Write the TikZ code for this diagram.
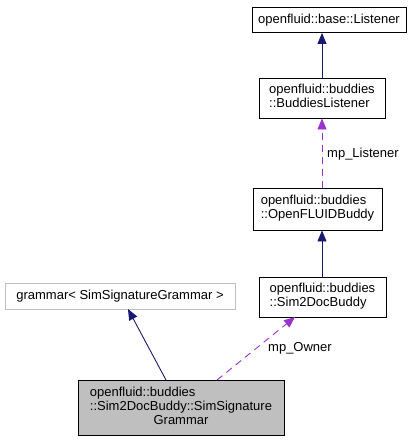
\documentclass[tikz,border=0pt]{standalone}
\usepackage{fontspec}
\setmainfont{Liberation Sans}
\usetikzlibrary{arrows.meta}
\definecolor{navy}{HTML}{191970}
\definecolor{orchid}{HTML}{9A32CD}
\definecolor{boxgray}{HTML}{BFBFBF}
\tikzset{
  cls/.style={draw=black, line width=0.9pt, fill=white, inner sep=0pt, font=\fontsize{13}{14}\selectfont},
  ext/.style={cls, draw=boxgray},
  cur/.style={cls, fill=boxgray},
  inh/.style={draw=navy, line width=0.9pt, -{Triangle[length=11pt,width=9pt]}},
  use/.style={draw=orchid, line width=0.9pt, dash pattern=on 7pt off 5pt, -{Triangle[length=11pt,width=9pt]}},
  lbl/.style={font=\fontsize{13}{14}\selectfont, inner sep=0pt}
}
\begin{document}
\begin{tikzpicture}[x=1pt,y=-1pt]
\useasboundingbox (0,0) rectangle (410,441);
\node[cls, minimum width=154pt, minimum height=25pt] (listener) at (329,20) {openfluid::base::Listener};
\node[cls, minimum width=126pt, minimum height=40pt] (bl) at (322,98) {\begin{tabular}{@{}l@{}}openfluid::buddies\\::BuddiesListener\end{tabular}};
\node[cls, minimum width=129pt, minimum height=42pt] (ofb) at (317.5,209) {\begin{tabular}{@{}l@{}}openfluid::buddies\\::OpenFLUIDBuddy\end{tabular}};
\node[cls, minimum width=127pt, minimum height=40pt] (s2d) at (322.5,297) {\begin{tabular}{@{}l@{}}openfluid::buddies\\::Sim2DocBuddy\end{tabular}};
\node[ext, minimum width=230pt, minimum height=26pt] (gram) at (120,296) {grammar< SimSignatureGrammar >};
\node[cur, minimum width=206pt, minimum height=55pt] (ssg) at (181,407.5) {\begin{tabular}{@{}l@{}}openfluid::buddies\\::Sim2DocBuddy::SimSignature\\\multicolumn{1}{@{}c@{}}{Grammar}\end{tabular}};
\coordinate (a1) at (322,78);
\coordinate (a2) at (322,188);
\coordinate (a3) at (322,277);
\coordinate (ssgL) at (166,380);
\coordinate (gramT) at (128,309);
\coordinate (ssgR) at (217,380);
\coordinate (s2dT) at (295,317);
\draw[inh] (a1) -- (a1 |- listener.south);
\draw[use] (a2) -- (a2 |- bl.south);
\draw[inh] (a3) -- (a3 |- ofb.south);
\draw[inh] (ssgL) -- (gramT);
\draw[use] (ssgR) -- (s2dT);
\node[lbl, anchor=west] (l1) at (327,154) {mp\_Listener};
\node[lbl, anchor=west] (l2) at (268,348) {mp\_Owner};
\end{tikzpicture}
\end{document}
